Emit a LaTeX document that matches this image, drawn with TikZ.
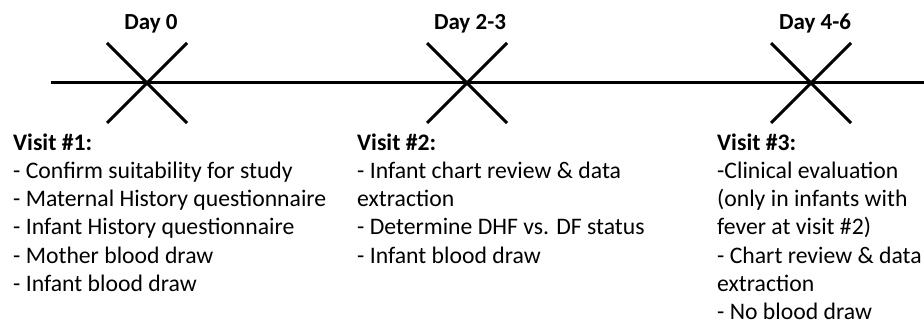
\documentclass[tikz,border=0pt]{standalone}
\usepackage{fontspec}
\setmainfont{Carlito}
\begin{document}
\begin{tikzpicture}[x=1pt,y=-1pt,
  tl/.style={line width=3pt,black},
  cross/.style={line width=3pt,black},
  daylab/.style={font=\fontsize{23}{28.3}\selectfont\bfseries,anchor=base,inner sep=0pt},
  visit/.style={font=\fontsize{23.7}{28.3}\selectfont,align=left,anchor=base west,inner sep=0pt}]
\useasboundingbox (0,0) rectangle (924,326);
% timeline
\coordinate (L) at (51,83);
\coordinate (R) at (924,83);
\draw[tl] (L) -- (R);
% crosses
\foreach \n/\cx in {a/147,b/467,c/811}{
  \coordinate (\n tl) at (\cx-40,43);
  \coordinate (\n br) at (\cx+40,123);
  \coordinate (\n tr) at (\cx+40,43);
  \coordinate (\n bl) at (\cx-40,123);
  \draw[cross] (\n tl) -- (\n br);
  \draw[cross] (\n tr) -- (\n bl);
}
% day labels
\node[daylab] (d0) at (151,30) {Day 0};
\node[daylab] (d1) at (470,30) {Day 2-3};
\node[daylab] (d2) at (815,30) {Day 4-6};
% visit texts (anchored at the baseline of the last line)
\node[visit] (v1) at (13,291.5) {\textbf{Visit \#1:}\\- Confirm suitability for study\\- Maternal History questionnaire\\- Infant History questionnaire\\- Mother blood draw\\- Infant blood draw};
\node[visit] (v2) at (357,263.2) {\textbf{Visit \#2:}\\- Infant chart review \& data\\extraction\\- Determine DHF vs. DF status\\- Infant blood draw};
\node[visit] (v3) at (717,319.8) {\textbf{Visit \#3:}\\-Clinical evaluation\\(only in infants with\\fever at visit \#2)\\- Chart review \& data\\extraction\\- No blood draw};
\end{tikzpicture}
\end{document}
